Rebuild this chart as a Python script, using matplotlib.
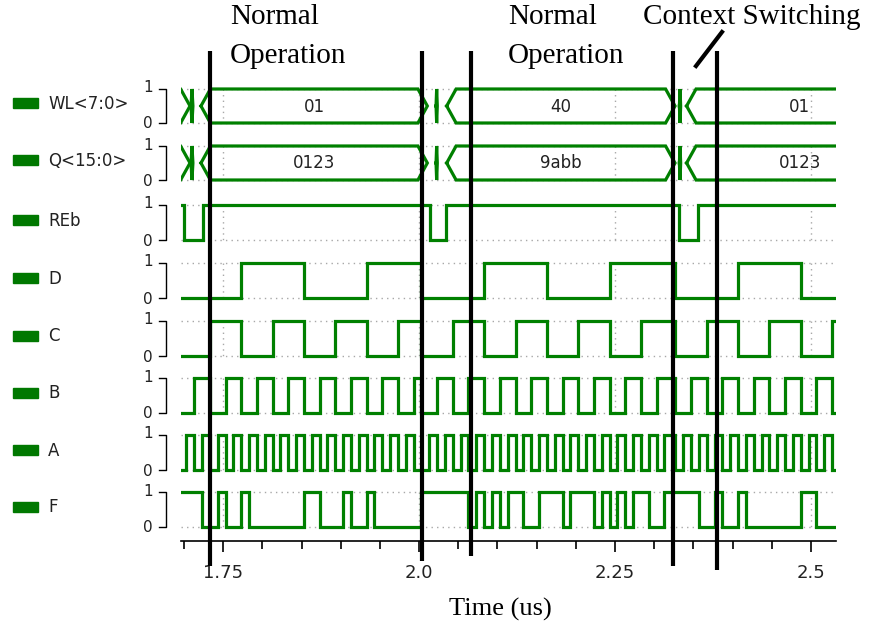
import matplotlib
matplotlib.use("Agg")
import matplotlib.pyplot as plt
from matplotlib.lines import Line2D
from matplotlib.patches import Rectangle
from matplotlib.ticker import FixedLocator, MultipleLocator

W, H, DPI = 875, 632, 100

# ---- data -------------------------------------------------------------
signal_names = ["WL<7:0>", "Q<15:0>", "REb", "D", "C", "B", "A", "F"]

# bus values: (start, end, label) in us
bus_start = [1.60, 1.7090, 1.7217, 2.0216, 2.0352, 2.3321, 2.3413]
bus_end = [1.7077, 1.7114, 2.0105, 2.0232, 2.3265, 2.3337, 2.63]
wl_values = ["", "", "01", "", "40", "", "01"]
q_values = ["", "", "0123", "", "9abb", "", "0123"]

# read-enable (active low) edges
reb_times = [1.60, 1.6995, 1.7243, 2.0139, 2.0343, 2.3316, 2.3552]
reb_levels = [1, 0, 1, 0, 1, 0, 1]

# counter / LUT output sampled per 10 ns slot, one string per context
slot_us = 0.01
segment_start = [1.693, 2.003, 2.327]
D_bits = ["00000000111111110000000011111111",
          "00000000111111110000000011111111",
          "000000001111111100000"]
C_bits = ["00001111000011110000111100001111",
          "00001111000011110000111100001111",
          "000011110000111100001"]
B_bits = ["00110011001100110011001100110011",
          "00110011001100110011001100110011",
          "001100110011001100110"]
A_bits = ["01010101010101010101010101010101",
          "01010101010101010101010101010101",
          "010101010101010101010"]
F_bits = ["11100100100000001100010010000000",
          "11111101010110011101110101011001",
          "111001001000000011000"]

# phase markers (us)
marker_times = [1.7338, 2.0043, 2.0658, 2.3243, 2.3797]
marker_bottom = [566, 561, 556, 566, 570]

tick_major = [1.75, 2.0, 2.25, 2.5]
tick_labels = ["1.75", "2.0", "2.25", "2.5"]

# ---- layout -----------------------------------------------------------
t_left, t_right = 1.6962, 2.5319
row_high = [89, 146, 205, 263, 321, 378, 435, 492]
row_low = [123, 180, 240, 298, 356, 413, 470, 527]
axis_y = 540.7
GREEN = "#008000"
LW = 2.3
BUS_SLOPE = 0.012

fig = plt.figure(figsize=(W / DPI, H / DPI), dpi=DPI)
ax = fig.add_axes([181 / W, 0, 655 / W, 1])
ax.set_xlim(t_left, t_right)
ax.set_ylim(H, 0)
for s in ("left", "right", "top"):
    ax.spines[s].set_visible(False)
ax.spines["bottom"].set_position(("data", axis_y))
ax.spines["bottom"].set_linewidth(1.2)
ax.set_yticks([])
ax.xaxis.set_major_locator(FixedLocator(tick_major))
ax.set_xticklabels(tick_labels)
ax.xaxis.set_minor_locator(MultipleLocator(0.05))
ax.tick_params(axis="x", which="both", direction="out", length=6, width=1.2,
               labelsize=13, pad=9, labelcolor="#222222")
ax.tick_params(axis="x", which="major", length=8)


def fx(x):
    return x / W


def fy(y):
    return 1 - y / H


# dotted reference grid inside every row
for hi, lo in zip(row_high, row_low):
    ax.hlines([hi, lo], t_left, t_right, colors="#a8a8a8", linestyles=(0, (1, 3)),
              lw=1.0, zorder=1)
    ax.vlines(tick_major, hi, lo, colors="#a8a8a8", linestyles=(0, (1, 3)),
              lw=1.0, zorder=1)


def draw_bus(row, labels):
    hi, lo = row_high[row], row_low[row]
    mid = (hi + lo) / 2
    for t0, t1, lab in zip(bus_start, bus_end, labels):
        d = min(BUS_SLOPE, (t1 - t0) / 2)
        xs = [t0, t0 + d, t1 - d, t1, t1 - d, t0 + d, t0]
        ys = [mid, hi, hi, mid, lo, lo, mid]
        ax.plot(xs, ys, color=GREEN, lw=LW, solid_joinstyle="miter", zorder=3)
        if lab:
            ax.text((t0 + t1) / 2, mid + 0.5, lab, ha="center", va="center",
                    fontsize=12, color="#222222", clip_on=True, zorder=4)


def draw_levels(row, times, levels):
    hi, lo = row_high[row], row_low[row]
    ys = [lo - v * (lo - hi) for v in levels]
    ax.step(list(times) + [t_right + 0.05], ys + [ys[-1]], where="post",
            color=GREEN, lw=LW, solid_joinstyle="miter", zorder=3)


def expand(bits_list):
    times, levels = [], []
    for i, (t0, bits) in enumerate(zip(segment_start, bits_list)):
        t_next = segment_start[i + 1] if i + 1 < len(segment_start) else 99
        for k, b in enumerate(bits):
            t = t0 + k * slot_us
            if t >= t_next:
                break
            times.append(t)
            levels.append(int(b))
    return times, levels


draw_bus(0, wl_values)
draw_bus(1, q_values)
draw_levels(2, reb_times, reb_levels)
for row, bits in zip(range(3, 8), [D_bits, C_bits, B_bits, A_bits, F_bits]):
    draw_levels(row, *expand(bits))

# phase markers
for t, yb in zip(marker_times, marker_bottom):
    ax.plot([t, t], [51, yb], color="black", lw=3.0, solid_capstyle="butt",
            zorder=6, clip_on=False)

# left-hand legend, names and 0/1 scales
for name, hi, lo in zip(signal_names, row_high, row_low):
    mid = (hi + lo) / 2
    fig.patches.append(Rectangle((fx(13), fy(mid + 2)), 25 / W, 10 / H,
                                 transform=fig.transFigure, color="#007800"))
    fig.text(fx(48), fy(mid - 2), name, ha="left", va="center", fontsize=12,
             color="#222222")
    fig.text(fx(148), fy(hi - 1), "1", ha="center", va="center", fontsize=11,
             color="#222222")
    fig.text(fx(148), fy(lo + 1), "0", ha="center", va="center", fontsize=11,
             color="#222222")
    fig.add_artist(Line2D([fx(159), fx(166), fx(166), fx(159)],
                          [fy(hi), fy(hi), fy(lo), fy(lo)], color="black",
                          lw=1.0, transform=fig.transFigure))

# phase captions
serif = ["Liberation Serif", "DejaVu Serif"]
for x0 in (230, 508):
    fig.text(fx(x0), fy(17), "Normal", family=serif, fontsize=21, ha="left",
             va="center")
    fig.text(fx(x0), fy(56), "Operation", family=serif, fontsize=21,
             ha="left", va="center")
fig.text(fx(643), fy(17), "Context Switching", family=serif, fontsize=21,
         ha="left", va="center")
fig.add_artist(Line2D([fx(696), fx(722)], [fy(66), fy(32)], color="black",
                      lw=3.0, transform=fig.transFigure))

fig.text(fx(500), fy(609), "Time (us)", family=serif, fontsize=19,
         ha="center", va="center")

fig.savefig("out.png", dpi=DPI)
